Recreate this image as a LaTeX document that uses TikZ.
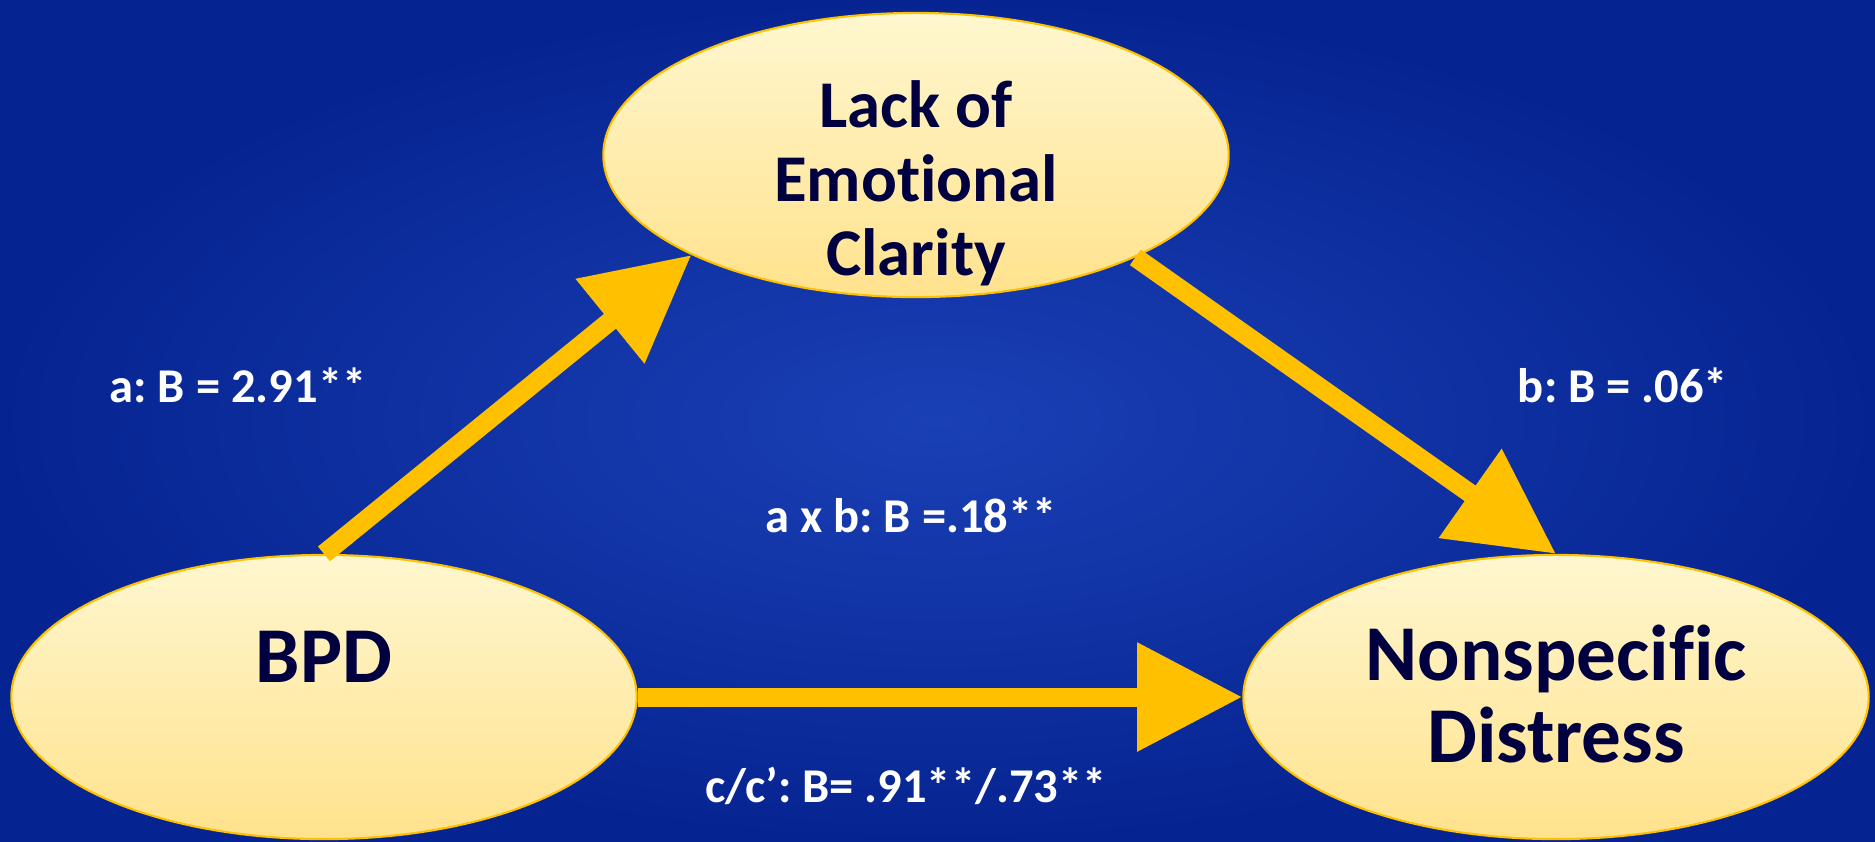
\documentclass[tikz,border=0pt]{standalone}
\usepackage{fontspec}
\setmainfont{Carlito}[Ligatures=NoCommon]
\frenchspacing
\usetikzlibrary{shapes.geometric,arrows.meta}
\definecolor{bgdark}{RGB}{6,36,145}
\definecolor{bglight}{RGB}{26,64,182}
\definecolor{gold}{RGB}{255,192,0}
\definecolor{ovaltop}{RGB}{255,247,208}
\definecolor{ovalbot}{RGB}{255,226,140}
\definecolor{navy}{RGB}{0,0,64}
\begin{document}
\begin{tikzpicture}[x=0.01cm, y=-0.01cm,
	oval/.style={ellipse, draw=gold, line width=0.6pt, top color=ovaltop, bottom color=ovalbot, minimum width=6.25cm, minimum height=2.84cm, inner sep=0pt},
	bigtxt/.style={text=navy, align=center, inner sep=0pt, font=\fontsize{22.5}{23.5}\selectfont\bfseries},
	midtxt/.style={text=navy, align=center, inner sep=0pt, font=\fontsize{19}{21}\selectfont\bfseries},
	coef/.style={text=white, inner sep=0pt, anchor=base, font=\fontsize{13.8}{16}\selectfont\bfseries},
	arr/.style={draw=gold, line width=0.19cm, -{Triangle[length=1.05cm, width=1.04cm]}}]
	\useasboundingbox (0,0) rectangle (1875,841);
	\shade [inner color=bglight, outer color=bgdark] (0,0) rectangle (1875,841);
	% ovals
	\node [oval] (lack) at (916,155) {};
	\node [oval] (bpd) at (324,697) {};
	\node [oval] (dist) at (1556,697) {};
	\node [midtxt] (lacktxt) at (916,183) {Lack of\\Emotional\\Clarity};
	\node [bigtxt, anchor=base] (bpdtxt) at (324,682) {BPD};
	\node [bigtxt] (disttxt) at (1556,694) {Nonspecific\\Distress};
	% paths
	\draw [arr] (bpd.north) -- (lack.204);
	\draw [arr] (lack.335) -- (dist.north);
	\draw [arr] (bpd.east) -- (dist.west);
	%\draw [arr, dashed] (bpd) -- (dist);
	\node [coef] (a) at (238,402) {a: B = 2.91**};
	\node [coef] (b) at (1623,402) {b: B = .06*};
	\node [coef] (ab) at (911,532) {a x b: B =.18**};
	\node [coef] (c) at (906,802) {c/c’: B= .91**/.73**};
\end{tikzpicture}
\end{document}
